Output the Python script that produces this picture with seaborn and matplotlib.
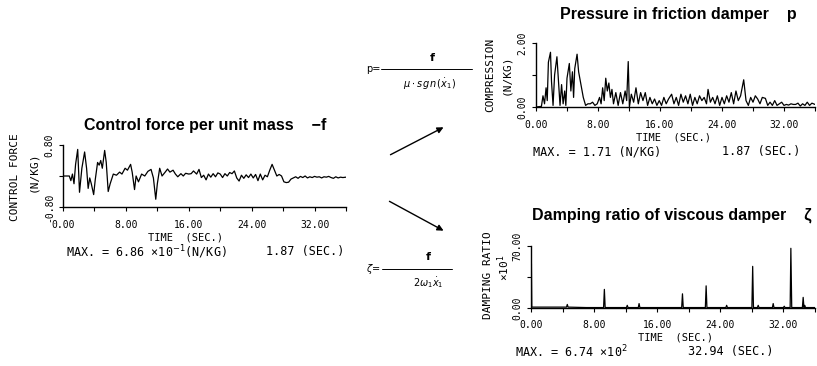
import matplotlib
matplotlib.use("Agg")
import matplotlib.pyplot as plt
from matplotlib.lines import Line2D
from matplotlib.patches import FancyArrowPatch
import seaborn as sns

# ---------------- data ----------------
# Control force per unit mass  -f  (N/KG)
force_t = [0, 0.8, 1.0, 1.2, 1.4, 1.6, 1.87, 2.1, 2.4, 2.75, 3.0, 3.2, 3.4, 3.6, 3.9,
           4.1, 4.4, 4.6, 4.8, 5.0, 5.3, 5.5, 5.75, 6.0, 6.4, 6.8, 7.2, 7.5, 7.9, 8.2,
           8.6, 8.8, 9.1, 9.3, 9.6, 10.0, 10.4, 10.8, 11.2, 11.5, 11.8, 12.0, 12.3, 12.6,
           13.0, 13.3, 13.6, 14.0, 14.3, 14.6, 15.0, 15.3, 15.6, 16.0, 16.3, 16.6, 17.0,
           17.3, 17.6, 17.9, 18.2, 18.5, 18.8, 19.1, 19.4, 19.7, 20.0, 20.3, 20.6, 20.9,
           21.2, 21.5, 21.8, 22.1, 22.4, 22.7, 23.0, 23.3, 23.6, 23.9, 24.2, 24.5, 24.8,
           25.1, 25.4, 25.7, 26.0, 26.3, 26.6, 26.9, 27.2, 27.5, 27.8, 28.1, 28.4, 28.7,
           29.0, 29.3, 29.6, 29.9, 30.2, 30.5, 30.8, 31.1, 31.4, 31.7, 32.0, 32.3, 32.6,
           32.9, 33.2, 33.5, 33.8, 34.1, 34.4, 34.7, 35.0, 35.3, 35.6, 36.0]
force_v = [0, 0, -0.12, 0.05, -0.2, 0.3, 0.686, -0.42, 0.2, 0.62, 0.2, -0.32, -0.05, -0.2, -0.48,
           -0.1, 0.35, 0.28, 0.4, 0.2, 0.66, 0.35, -0.4, -0.2, 0.05, 0.02, 0.1, 0.05, 0.2, 0.15,
           0.3, 0.1, -0.35, 0.0, -0.15, 0.05, 0.0, 0.12, 0.17, -0.05, -0.6, -0.2, 0.2, 0.0,
           0.1, 0.18, 0.1, 0.15, 0.05, -0.02, 0.06, 0.0, 0.07, 0.05, 0.06, 0.13, 0.05,
           0.17, -0.04, 0.02, -0.1, 0.05, -0.03, 0.06, -0.02, 0.08, 0.05, -0.04, 0.06, 0.0,
           0.09, 0.06, 0.13, -0.05, -0.13, 0.02, -0.06, 0.03, -0.04, 0.05, -0.05, 0.04, -0.12,
           0.05, -0.1, 0.02, -0.02, 0.15, 0.3, 0.15, 0.0, 0.04, 0.0, -0.15, -0.17, -0.16,
           -0.08, -0.05, -0.02, -0.06, -0.01, -0.04, 0.0, -0.05, -0.02, -0.04, -0.01, -0.03, -0.02,
           -0.05, -0.02, -0.03, -0.01, -0.04, -0.06, -0.02, -0.05, -0.03, -0.04, -0.03]

# Pressure in friction damper  p  (N/KG)
press_t = [0, 0.7, 0.9, 1.1, 1.3, 1.45, 1.6, 1.87, 2.0, 2.2, 2.4, 2.7, 2.9, 3.1, 3.3, 3.5,
           3.7, 3.85, 4.0, 4.3, 4.5, 4.7, 4.85, 5.0, 5.3, 5.5, 5.8, 6.1, 6.4, 6.7, 7.0, 7.3,
           7.6, 7.9, 8.2, 8.4, 8.6, 8.8, 9.0, 9.2, 9.4, 9.6, 9.8, 10.0, 10.3, 10.6, 10.9,
           11.2, 11.5, 11.7, 11.9, 12.05, 12.3, 12.6, 12.9, 13.2, 13.5, 13.8, 14.1, 14.4,
           14.7, 15.0, 15.3, 15.6, 15.9, 16.2, 16.5, 16.8, 17.1, 17.5, 17.8, 18.1, 18.4,
           18.7, 19.0, 19.3, 19.6, 19.9, 20.2, 20.5, 20.8, 21.1, 21.4, 21.7, 22.0, 22.2,
           22.5, 22.8, 23.1, 23.4, 23.7, 24.0, 24.3, 24.6, 24.9, 25.2, 25.5, 25.8, 26.1,
           26.4, 26.8, 27.1, 27.4, 27.7, 28.0, 28.3, 28.6, 28.9, 29.2, 29.6, 29.9, 30.2,
           30.5, 30.8, 31.1, 31.4, 31.7, 32.0, 32.3, 32.6, 32.9, 33.2, 33.5, 33.8, 34.1,
           34.4, 34.7, 35.0, 35.3, 35.6, 36.0]
press_v = [0, 0.02, 0.35, 0.1, 0.6, 0.2, 1.4, 1.71, 0.8, 0.05, 1.0, 1.57, 0.8, 0.05, 0.7, 0.1,
           0.5, 0.05, 0.9, 1.36, 0.5, 1.1, 0.3, 1.2, 1.65, 1.1, 0.7, 0.3, 0.05, 0.1, 0.1, 0.15,
           0.05, 0.1, 0.3, 0.1, 0.6, 0.2, 0.9, 0.5, 0.75, 0.3, 0.55, 0.1, 0.45, 0.05, 0.45,
           0.1, 0.5, 0.2, 1.42, 0.0, 0.4, 0.15, 0.6, 0.1, 0.45, 0.2, 0.45, 0.05,
           0.3, 0.1, 0.25, 0.05, 0.2, 0.05, 0.3, 0.1, 0.25, 0.4, 0.1, 0.3, 0.05,
           0.4, 0.15, 0.35, 0.1, 0.4, 0.05, 0.3, 0.1, 0.35, 0.2, 0.3, 0.1, 0.55,
           0.15, 0.3, 0.1, 0.35, 0.05, 0.3, 0.1, 0.35, 0.15, 0.45, 0.1, 0.5, 0.2,
           0.35, 0.85, 0.2, 0.05, 0.3, 0.15, 0.35, 0.25, 0.1, 0.3, 0.27, 0.05, 0.15,
           0.05, 0.2, 0.05, 0.1, 0.15, 0.05, 0.08, 0.06, 0.1, 0.08, 0.08, 0.12, 0.03,
           0.1, 0.05, 0.15, 0.05, 0.12, 0.08]

# Damping ratio of viscous damper  zeta  (x10^1)
zeta_t = [0, 0.05, 0.1, 0.3, 2.0, 4.5, 4.6, 4.7, 7.0, 9.2, 9.3, 9.4, 11.0, 12.1, 12.2, 12.3,
          13.6, 13.7, 13.8, 16.0, 19.1, 19.2, 19.3, 22.1, 22.2, 22.3, 24.7, 24.8, 24.9, 26.5,
          28.0, 28.1, 28.2, 28.7, 28.8, 28.9, 30.6, 30.7, 30.8, 32.0, 32.1, 32.2, 32.85,
          32.94, 33.05, 34.4, 34.5, 34.6, 34.7, 34.8, 35.5, 36.0]
zeta_v = [0, 50, 1, 1, 1, 1, 4, 1, 0.5, 0.5, 21, 0.5, 0.5, 0.5, 3, 0.5,
          0.5, 5, 0.5, 0.5, 0.5, 16, 0.5, 0.5, 25, 0.5, 0.5, 3, 0.5, 0.5,
          0.5, 47, 0.5, 0.5, 3, 0.5, 0.5, 5, 0.5, 0.5, 2, 0.5, 0.5,
          67.4, 0.5, 0.5, 12, 0.5, 3, 0.5, 0.5, 0.5]

x_ticks = [0, 8, 16, 24, 32]
x_ticklabels = ["0.00", "8.00", "16.00", "24.00", "32.00"]
x_minor = [4, 12, 20, 28, 36]

# ---------------- figure ----------------
sns.set_theme(style="white")
plt.rcParams['font.family'] = ['DejaVu Sans']
MONO = ["DejaVu Sans Mono", "DejaVu Sans"]

W, H = 817, 366
fig = plt.figure(figsize=(W / 100, H / 100), dpi=100)
fig.patch.set_facecolor("white")


def box(x0, x1, ytop, ybot):
    return [x0 / W, 1 - ybot / H, (x1 - x0) / W, (ybot - ytop) / H]


def fx(px):
    return px / W


def fy(py):
    return 1 - py / H


def style(ax, ylim, yticks, yticklabels):
    ax.set_xlim(0, 36)
    ax.set_ylim(*ylim)
    for s in ["top", "right"]:
        ax.spines[s].set_visible(False)
    for s in ["left", "bottom"]:
        ax.spines[s].set_color("black")
        ax.spines[s].set_linewidth(1.0)
    ax.set_facecolor("white")
    ax.set_xticks(x_ticks)
    ax.set_xticklabels(x_ticklabels, family=MONO)
    ax.set_xticks(x_minor, minor=True)
    ax.set_yticks(yticks)
    ax.set_yticklabels(yticklabels, rotation=90, va="center", family=MONO)
    ax.tick_params(axis="both", which="both", bottom=True, left=True, direction="out",
                   length=3, width=0.8, color="black", labelsize=7, labelcolor="black")
    ax.tick_params(axis="x", pad=6)
    ax.tick_params(axis="y", pad=3)
    ax.set_xlabel("")
    ax.set_ylabel("")
    ax.grid(False)


ax_f = fig.add_axes(box(63, 346, 145, 207))
ax_p = fig.add_axes(box(536, 815, 43, 107))
ax_z = fig.add_axes(box(531, 815, 246, 308))

sns.lineplot(x=force_t, y=force_v, ax=ax_f, color="black", linewidth=0.9,
             estimator=None, sort=False, legend=False)
sns.lineplot(x=press_t, y=press_v, ax=ax_p, color="black", linewidth=0.9,
             estimator=None, sort=False, legend=False)
sns.lineplot(x=zeta_t, y=zeta_v, ax=ax_z, color="black", linewidth=0.9,
             estimator=None, sort=False, legend=False)

style(ax_f, (-0.8, 0.8), [-0.8, 0, 0.8], ["-0.80", "", "0.80"])
style(ax_p, (0, 2.0), [0, 1, 2], ["0.00", "", "2.00"])
style(ax_z, (0, 70), [0, 35, 70], ["0.00", "", "70.00"])

# titles
tkw = dict(fontsize=11.5, fontweight="bold", family=["Liberation Sans", "DejaVu Sans"],
           ha="center", va="center", color="black")
fig.text(fx(205), fy(125), "Control force per unit mass    \u2212f", **tkw)
fig.text(fx(678), fy(14), "Pressure in friction damper    p", **tkw)
fig.text(fx(672), fy(215), "Damping ratio of viscous damper    \u03b6", **tkw)

# y labels
ykw = dict(fontsize=8, rotation=90, ha="center", va="center", color="black", family=MONO)
fig.text(fx(15), fy(177), "CONTROL FORCE", **ykw)
fig.text(fx(33), fy(172), "(N/KG)", **ykw)
fig.text(fx(490), fy(75), "COMPRESSION", **ykw)
fig.text(fx(506), fy(75), "(N/KG)", **ykw)
fig.text(fx(488), fy(275), "DAMPING RATIO", **ykw)
fig.text(fx(504), fy(268), "\u00d710$^{1}$", **ykw)

# x labels and max lines
xkw = dict(fontsize=7.5, ha="center", va="center", color="black", family=MONO)
fig.text(fx(186), fy(237), "TIME  (SEC.)", **xkw)
fig.text(fx(673), fy(137), "TIME  (SEC.)", **xkw)
fig.text(fx(675), fy(338), "TIME  (SEC.)", **xkw)

mkw = dict(fontsize=8.5, va="center", color="black", family=MONO)
fig.text(fx(66), fy(252), "MAX. = 6.86 \u00d710$^{-1}$(N/KG)", ha="left", **mkw)
fig.text(fx(344), fy(252), "1.87 (SEC.)", ha="right", **mkw)
fig.text(fx(533), fy(152), "MAX. = 1.71 (N/KG)", ha="left", **mkw)
fig.text(fx(800), fy(152), "1.87 (SEC.)", ha="right", **mkw)
fig.text(fx(515), fy(352), "MAX. = 6.74 \u00d710$^{2}$", ha="left", **mkw)
fig.text(fx(773), fy(352), "32.94 (SEC.)", ha="right", **mkw)

# formulas
ekw = dict(ha="center", va="center", color="black")
fig.text(fx(373), fy(69), "p=", fontsize=7, **ekw)
fig.text(fx(432), fy(58), "f", fontsize=8, fontweight="bold", **ekw)
fig.add_artist(Line2D([fx(381), fx(472)], [fy(69), fy(69)], transform=fig.transFigure,
                      color="black", lw=0.7))
fig.text(fx(430), fy(84), r"$\mu\cdot s\,gn\,(\dot{x}_1)$", fontsize=7, **ekw)

fig.text(fx(373), fy(269), r"$\zeta$=", fontsize=7, **ekw)
fig.text(fx(428), fy(257), "f", fontsize=8, fontweight="bold", **ekw)
fig.add_artist(Line2D([fx(382), fx(452)], [fy(269), fy(269)], transform=fig.transFigure,
                      color="black", lw=0.7))
fig.text(fx(428), fy(283), r"$2\omega_1\dot{x}_1$", fontsize=7, **ekw)

# arrows
for (xa, ya, xb, yb) in [(388, 156, 446, 126), (387, 200, 446, 232)]:
    fig.add_artist(FancyArrowPatch((fx(xa), fy(ya)), (fx(xb), fy(yb)),
                                   transform=fig.transFigure, arrowstyle="-|>",
                                   mutation_scale=9, lw=1.0, color="black"))

fig.savefig("out.png", dpi=100, facecolor="white")
